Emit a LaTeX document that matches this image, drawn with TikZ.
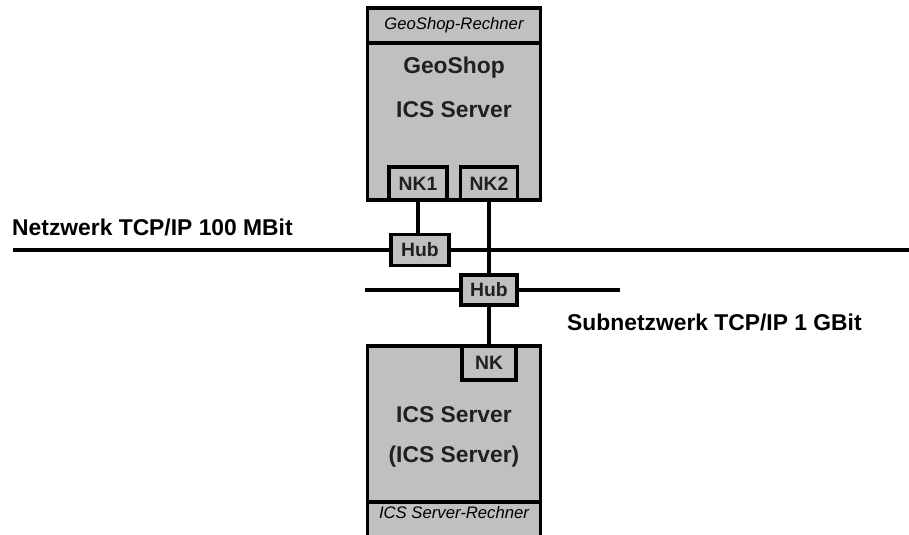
\documentclass[tikz,border=0pt]{standalone}
\usepackage{fontspec}
\setmainfont{Liberation Sans}
\definecolor{boxgray}{HTML}{C0C0C0}
\definecolor{boxtext}{HTML}{202020}

\begin{document}
\begin{tikzpicture}[x=0.02cm,y=-0.02cm,
  box/.style={draw,fill=boxgray,line width=1.9pt,inner sep=0pt},
  card/.style={box,font=\fontsize{11}{13}\selectfont\bfseries,text=boxtext},
  title/.style={box,minimum width=3.46cm,font=\fontsize{9.5}{11}\selectfont\itshape},
  big/.style={font=\fontsize{13}{15}\selectfont\bfseries,text=boxtext},
  netlabel/.style={anchor=west,font=\fontsize{13}{15}\selectfont\bfseries},
  net/.style={line width=1.9pt}]
  \useasboundingbox (0,0) rectangle (909,534);
  % GeoShop machine
  \node[box,minimum width=3.46cm,minimum height=3.14cm] (geo) at (454,121.5) {};
  \node[title,minimum height=0.70cm] (geoTitle) at (454,25.5) {GeoShop-Rechner};
  \node[big] (geoName) at (454,68) {GeoShop};
  \node[big] (geoRole) at (454,110) {ICS Server};
  \node[card,minimum width=1.16cm,minimum height=0.66cm] (nk1) at (418,183.5) {NK1};
  \node[card,minimum width=1.14cm,minimum height=0.66cm] (nk2) at (489,183.5) {NK2};
  % ICS server machine
  \node[box,minimum width=3.46cm,minimum height=3.12cm] (ics) at (454,424) {};
  \node[title,minimum height=0.76cm] (icsTitle) at (454,521) {};
  \node[font=\fontsize{9.5}{11}\selectfont\itshape] (icsTitleText) at (454,513) {ICS Server-Rechner};
  \node[big] (icsName) at (454,415) {ICS Server};
  \node[big] (icsRole) at (454,457) {(ICS Server)};
  \node[card,minimum width=1.08cm,minimum height=0.68cm] (nk) at (489,363) {NK};
  % networks
  \node[card,minimum width=1.16cm,minimum height=0.62cm] (hubA) at (420,250) {Hub};
  \node[card,minimum width=1.12cm,minimum height=0.60cm] (hubB) at (489,290) {Hub};
  \coordinate (netW) at (13,250);
  \coordinate (netE) at (909,250);
  \coordinate (subW) at (365,290);
  \coordinate (subE) at (620,290);
  \draw[net] (netW) -- (hubA.west);
  \draw[net] (hubA.east) -- (netE);
  \draw[net] (subW) -- (hubB.west);
  \draw[net] (hubB.east) -- (subE);
  \draw[net] (nk1.south) -- (nk1.south |- hubA.north);
  \draw[net] (nk2.south) -- (hubB.north);
  \draw[net] (hubB.south) -- (nk.north);
  \node[netlabel] (netLabel) at (6,227) {Netzwerk TCP/IP 100 MBit};
  \node[netlabel] (subLabel) at (561,322) {Subnetzwerk TCP/IP 1 GBit};
\end{tikzpicture}
\end{document}
